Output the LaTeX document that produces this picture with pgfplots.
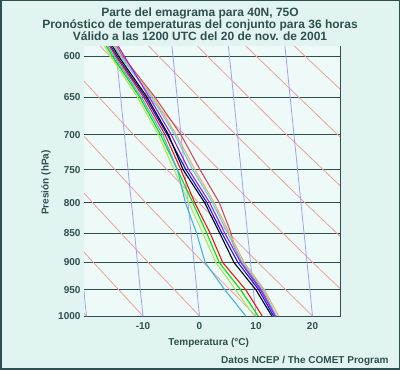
\documentclass[border=0pt]{standalone}
\usepackage{fontspec}
\setmainfont{Liberation Sans}
\usepackage{pgfplots}
\pgfplotsset{compat=1.18}
\definecolor{outerbg}{RGB}{226,244,241}
\definecolor{plotbg}{RGB}{238,250,247}
\definecolor{txt}{RGB}{47,79,79}
\definecolor{adiab}{RGB}{240,160,160}
\definecolor{isoth}{RGB}{160,160,250}
\definecolor{csb}{RGB}{70,180,230}
\definecolor{cyg}{RGB}{170,230,90}
\definecolor{cgr}{RGB}{0,225,0}
\definecolor{crd}{RGB}{240,20,20}
\definecolor{cbl}{RGB}{20,20,240}
\definecolor{cpu}{RGB}{160,32,240}
\definecolor{ctq}{RGB}{90,210,230}
\definecolor{cor}{RGB}{245,170,100}
\definecolor{cir}{RGB}{200,80,100}
\begin{document}
\begin{tikzpicture}[x=1pt,y=1pt]
\useasboundingbox (0,0) rectangle (400,370);
\fill[outerbg] (0,0) rectangle (400,370);
\draw[txt, line width=1.5pt] (0.75,0.75) rectangle (399.25,369.25);
\node[txt, font=\bfseries\fontsize{12}{11.8}\selectfont, align=center] at (200,346) {Parte del emagrama para 40N, 75O\\Pronóstico de temperaturas del conjunto para 36 horas\\Válido a las 1200 UTC del 20 de nov. de 2001};
\begin{axis}[at={(84pt,54pt)}, anchor=south west, scale only axis,
  width=257pt, height=270pt,
  ymode=log, y dir=reverse, ymin=588, ymax=1000,
  xmin=-20.44, xmax=25.04,
  axis background/.style={fill=plotbg},
  axis line style={draw=none},
  major tick length=0pt,
  xtick={-10,0,10,20}, xticklabels={-10,0,10,20},
  ytick={600,650,700,750,800,850,900,950,1000},
  yticklabels={600,650,700,750,800,850,900,950,1000},
  ymajorgrids, major grid style={txt, line width=1pt},
  xticklabel style={font=\bfseries\fontsize{10}{12}\selectfont, txt, yshift=-3pt},
  yticklabel style={font=\bfseries\fontsize{10}{12}\selectfont, txt},
  every axis plot/.append style={line join=round},
]
% dry adiabats
\addplot[adiab, line width=0.8pt] coordinates {(-20,1000) (-28.48,900) (-37.69,800)};
\addplot[adiab, line width=0.8pt] coordinates {(-10,1000) (-18.77,900) (-28.31,800) (-38.78,700)};
\addplot[adiab, line width=0.8pt] coordinates {(0,1000) (-9.07,900) (-18.92,800) (-29.74,700)};
\addplot[adiab, line width=0.8pt] coordinates {(10,1000) (0.64,900) (-9.54,800) (-20.71,700) (-33.15,600)};
\addplot[adiab, line width=0.8pt] coordinates {(20,1000) (10.34,900) (-0.16,800) (-11.68,700) (-24.51,600) (-27.26,580)};
\addplot[adiab, line width=0.8pt] coordinates {(30,1000) (20.04,900) (9.22,800) (-2.65,700) (-15.87,600) (-18.70,580)};
\addplot[adiab, line width=0.8pt] coordinates {(40,1000) (29.75,900) (18.61,800) (6.38,700) (-7.22,600) (-10.14,580)};
\addplot[adiab, line width=0.8pt] coordinates {(50,1000) (39.45,900) (27.99,800) (15.41,700) (1.42,600) (-1.58,580)};
\addplot[adiab, line width=0.8pt] coordinates {(60,1000) (49.15,900) (37.37,800) (24.44,700) (10.06,600) (6.98,580)};
\addplot[adiab, line width=0.8pt] coordinates {(70,1000) (58.86,900) (46.75,800) (33.47,700) (18.70,600) (15.53,580)};
\addplot[adiab, line width=0.8pt] coordinates {(80,1000) (68.56,900) (56.14,800) (42.51,700) (27.35,600) (24.09,580)};
% isotherms
\addplot[isoth, line width=0.8pt] coordinates {(-20,1000) (-25.01,580)};
\addplot[isoth, line width=0.8pt] coordinates {(-10,1000) (-15.01,580)};
\addplot[isoth, line width=0.8pt] coordinates {(0,1000) (-5.01,580)};
\addplot[isoth, line width=0.8pt] coordinates {(10,1000) (4.99,580)};
\addplot[isoth, line width=0.8pt] coordinates {(20,1000) (14.99,580)};
\addplot[isoth, line width=0.8pt] coordinates {(30,1000) (24.99,580)};
% ensemble profiles
\addplot[cir, line width=1.1pt] coordinates {(-14.7,588) (-13.6,600) (-7.9,650) (-3.3,700) (0.1,750) (3.5,800) (5.6,850) (6.0,870) (7.5,900) (11.0,950) (13.5,1000)};
\addplot[cor, line width=1.1pt] coordinates {(-14.9,588) (-13.8,600) (-8.2,650) (-4.1,700) (-0.8,750) (2.6,800) (5.3,850) (7.9,900) (11.5,950) (14.0,1000)};
\addplot[ctq, line width=1.1pt] coordinates {(-15.1,588) (-14.0,600) (-8.5,650) (-4.4,700) (-1.2,750) (2.3,800) (5.0,850) (7.6,900) (11.3,950) (13.6,1000)};
\addplot[cpu, line width=1.1pt] coordinates {(-14.4,588) (-13.3,600) (-8.9,650) (-5.0,700) (-1.9,750) (1.8,800) (4.5,850) (7.3,900) (10.8,950) (13.4,1000)};
\addplot[cbl, line width=1.1pt] coordinates {(-15.7,588) (-14.6,600) (-9.6,650) (-5.7,700) (-2.4,750) (1.3,800) (4.0,850) (6.8,900) (10.5,950) (13.1,1000)};
\addplot[black, line width=1.1pt] coordinates {(-15.4,588) (-14.3,600) (-9.3,650) (-5.5,700) (-2.9,750) (0.9,800) (3.6,850) (6.1,900) (10.0,950) (12.8,1000)};
\addplot[crd, line width=1.1pt] coordinates {(-15.9,588) (-14.8,600) (-9.9,650) (-6.1,700) (-3.3,750) (-0.85,800) (1.9,850) (4.1,900) (8.2,950) (11.1,1000)};
\addplot[cgr, line width=1.1pt] coordinates {(-16.5,588) (-15.4,600) (-10.6,650) (-6.9,700) (-3.9,750) (-1.2,800) (1.3,850) (3.5,900) (7.3,950) (10.4,1000)};
\addplot[cyg, line width=1.1pt] coordinates {(-16.8,588) (-15.7,600) (-11.0,650) (-7.3,700) (-4.5,750) (-1.9,800) (0.6,850) (2.9,900) (6.4,950) (9.7,1000)};
\addplot[csb, line width=1.1pt] coordinates {(-16.2,588) (-15.1,600) (-10.3,650) (-6.5,700) (-3.9,750) (-2.5,800) (-0.5,850) (1.0,900) (4.5,950) (8.2,1000)};
\draw[txt, line width=1pt] (rel axis cs:1,0) -- (rel axis cs:1,1);
\end{axis}
\node[txt, font=\bfseries\fontsize{10}{12}\selectfont] at (208.7,26.7) {Temperatura (°C)};
\node[txt, font=\bfseries\fontsize{10}{12}\selectfont, rotate=90] at (46,187.5) {Presión (hPa)};
\node[txt, font=\bfseries\fontsize{10}{12}\selectfont, anchor=east] at (392,9.3) {Datos NCEP / The COMET Program};
\end{tikzpicture}
\end{document}
